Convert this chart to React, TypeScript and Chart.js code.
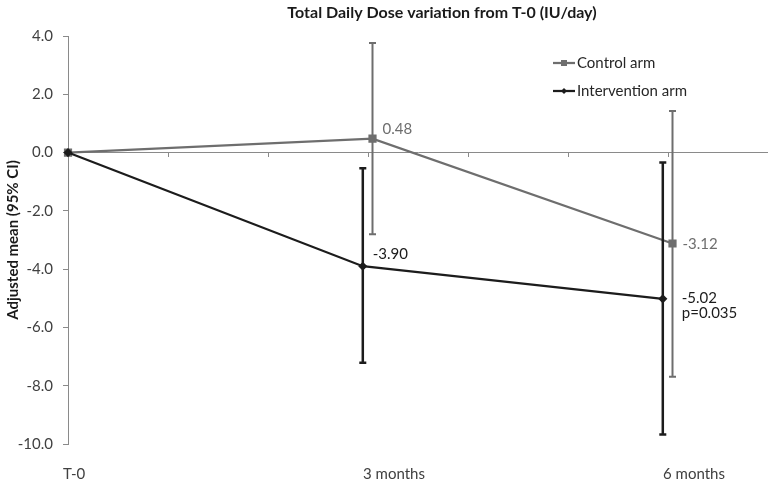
import React, { useEffect, useRef } from "react";
import { Chart } from "chart.js/auto";

// ---- data ----
const categories = ["T-0", "3 months", "6 months"];
const categoryPositions = [0, 3, 6];
const seriesNames = ["Control arm", "Intervention arm"];
const controlMeans = [0, 0.48, -3.12];
const controlLower = [0, -2.8, -7.69];
const controlUpper = [0, 3.76, 1.43];
const interventionMeans = [0, -3.9, -5.02];
const interventionLower = [0, -7.21, -9.67];
const interventionUpper = [0, -0.54, -0.34];
const interventionNotes = ["", "", "p=0.035"];
const yMin = -10;
const yMax = 4;
const yStep = 2;
const xMin = 0;
const xMax = 7;
const chartTitle = "Total Daily Dose variation from T-0 (IU/day)";
const yAxisTitle = "Adjusted mean (95% CI)";

// ---- styles ----
const FONT = "Lato, 'Noto Sans', sans-serif";
const CONTROL_COLOR = "#6e6e6e";
const INTERVENTION_COLOR = "#1c1c1c";
const AXIS_COLOR = "#8a8a8a";
const TEXT_COLOR = "#404040";
const seriesShift = [0.045, -0.052];
const labelOffsets = [
  [[0, 0], [10, -9], [10, 1]],
  [[0, 0], [10, -12], [19, -1]],
];

function buildPoints(means: number[], shift: number) {
  return means.map((v, i) => ({ x: categoryPositions[i] + (i === 0 ? 0 : shift), y: v }));
}

const customPlugin = {
  id: "customDraw",
  afterDatasetsDraw(chart: any) {
    const ctx = chart.ctx;
    const ys = chart.scales.y;
    chart.data.datasets.forEach((ds: any, i: number) => {
      const meta = chart.getDatasetMeta(i);
      ctx.save();
      ctx.strokeStyle = ds.borderColor;
      ctx.lineWidth = ds.errWidth;
      meta.data.forEach((pt: any, j: number) => {
        const lo = ds.errLow[j];
        const hi = ds.errHigh[j];
        if (lo === hi) return;
        const x = pt.x;
        const y1 = ys.getPixelForValue(lo);
        const y2 = ys.getPixelForValue(hi);
        ctx.beginPath();
        ctx.moveTo(x, y1);
        ctx.lineTo(x, y2);
        ctx.moveTo(x - 3.5, y1);
        ctx.lineTo(x + 3.5, y1);
        ctx.moveTo(x - 3.5, y2);
        ctx.lineTo(x + 3.5, y2);
        ctx.stroke();
      });
      // value labels
      ctx.fillStyle = ds.borderColor;
      ctx.font = `15px ${FONT}`;
      ctx.textAlign = "left";
      ctx.textBaseline = "middle";
      meta.data.forEach((pt: any, j: number) => {
        if (j === 0) return;
        const [dx, dy] = labelOffsets[i][j];
        ctx.fillText(ds.data[j].y.toFixed(2), pt.x + dx, pt.y + dy);
        const note = ds.notes ? ds.notes[j] : "";
        if (note) ctx.fillText(note, pt.x + dx, pt.y + dy + 15);
      });
      ctx.restore();
    });
  },
  afterDraw(chart: any) {
    const ctx = chart.ctx;
    ctx.save();
    // title
    ctx.fillStyle = "#1a1a1a";
    ctx.font = `bold 16px ${FONT}`;
    ctx.textAlign = "center";
    ctx.textBaseline = "middle";
    ctx.fillText(chartTitle, 442, 13);
    // legend
    const rows = [63, 91];
    chart.data.datasets.forEach((ds: any, i: number) => {
      const y = rows[i];
      ctx.strokeStyle = ds.borderColor;
      ctx.lineWidth = ds.borderWidth;
      ctx.beginPath();
      ctx.moveTo(553, y);
      ctx.lineTo(575, y);
      ctx.stroke();
      ctx.fillStyle = ds.borderColor;
      if (ds.pointStyle === "rect") {
        ctx.fillRect(561, y - 3, 6, 6);
      } else {
        ctx.beginPath();
        ctx.moveTo(564, y - 3);
        ctx.lineTo(567, y);
        ctx.lineTo(564, y + 3);
        ctx.lineTo(561, y);
        ctx.closePath();
        ctx.fill();
      }
      ctx.fillStyle = "#262626";
      ctx.font = `15px ${FONT}`;
      ctx.textAlign = "left";
      ctx.fillText(ds.label, 577, y);
    });
    ctx.restore();
  },
};

export default function App() {
  const ref = useRef<HTMLCanvasElement>(null);
  useEffect(() => {
    document.body.style.margin = "0";
    const chart = new Chart(ref.current as HTMLCanvasElement, {
      type: "scatter",
      data: {
        datasets: [
          {
            label: seriesNames[0],
            data: buildPoints(controlMeans, seriesShift[0]),
            showLine: true,
            borderColor: CONTROL_COLOR,
            backgroundColor: CONTROL_COLOR,
            borderWidth: 2.25,
            pointStyle: "rect",
            pointRadius: 4.2,
            order: 1,
            clip: false,
            errLow: controlLower,
            errHigh: controlUpper,
            errWidth: 2,
            xAxisID: "x",
          } as any,
          {
            label: seriesNames[1],
            data: buildPoints(interventionMeans, seriesShift[1]),
            showLine: true,
            borderColor: INTERVENTION_COLOR,
            backgroundColor: INTERVENTION_COLOR,
            borderWidth: 2.25,
            pointStyle: "rectRot",
            pointRadius: 3,
            order: 0,
            clip: false,
            errLow: interventionLower,
            errHigh: interventionUpper,
            errWidth: 2.5,
            notes: interventionNotes,
            xAxisID: "x",
          } as any,
        ],
      },
      options: {
        responsive: false,
        animation: false,
        devicePixelRatio: 1,
        layout: { autoPadding: false, padding: { top: 36, left: 0, right: 0, bottom: 0 } },
        plugins: {
          legend: { display: false },
          title: { display: false },
          tooltip: { enabled: false },
        },
        scales: {
          x: {
            type: "linear",
            position: { y: 0 } as any,
            min: xMin,
            max: xMax,
            afterFit: (scale: any) => {
              scale.paddingLeft = 0;
              scale.paddingRight = 0;
            },
            ticks: { display: false, stepSize: 1 },
            grid: { display: true, drawOnChartArea: false, drawTicks: true, tickLength: 4, color: AXIS_COLOR },
            border: { display: true, color: AXIS_COLOR, width: 1 },
          },
          x2: {
            type: "linear",
            position: "bottom",
            min: xMin,
            max: xMax,
            afterBuildTicks: (scale: any) => {
              scale.ticks = categoryPositions.map((v) => ({ value: v }));
            },
            afterFit: (scale: any) => {
              scale.height = 39;
              scale.paddingLeft = 0;
              scale.paddingRight = 0;
            },
            ticks: {
              callback: (v: any) => {
                const idx = categoryPositions.indexOf(Number(v));
                return idx >= 0 ? categories[idx] : "";
              },
              align: "start",
              labelOffset: -5,
              padding: 13,
              color: TEXT_COLOR,
              font: { family: FONT, size: 15 },
              autoSkip: false,
              maxRotation: 0,
            },
            grid: { display: false },
            border: { display: false },
          },
          y: {
            type: "linear",
            min: yMin,
            max: yMax,
            afterFit: (scale: any) => {
              scale.width = 68;
              scale.paddingTop = 0;
              scale.paddingBottom = 0;
            },
            ticks: {
              stepSize: yStep,
              padding: 10,
              color: TEXT_COLOR,
              font: { family: FONT, size: 15 },
              callback: (v: any) => Number(v).toFixed(1),
            },
            grid: { display: true, drawOnChartArea: false, drawTicks: true, tickLength: 5, color: AXIS_COLOR },
            border: { display: true, color: AXIS_COLOR, width: 1 },
            title: {
              display: true,
              text: yAxisTitle,
              color: "#1a1a1a",
              font: { family: FONT, size: 15, weight: "bold" },
              padding: { top: 4, bottom: 0 },
            },
          },
        },
      },
      plugins: [customPlugin],
    });
    return () => chart.destroy();
  }, []);
  return (
    <div style={{ width: 768, height: 483 }}>
      <canvas ref={ref} width={768} height={483} />
    </div>
  );
}
